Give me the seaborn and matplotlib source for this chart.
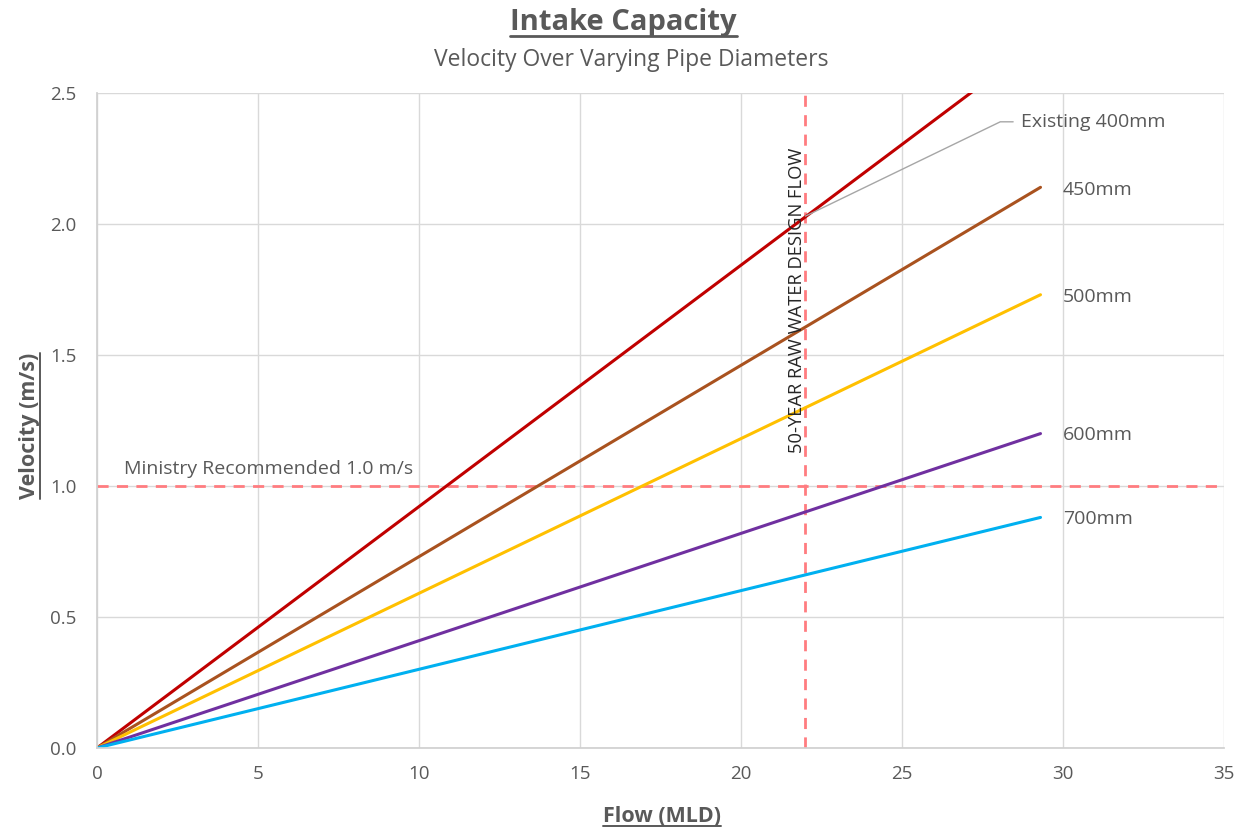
import numpy as np
import pandas as pd
import matplotlib
matplotlib.use("Agg")
import matplotlib.pyplot as plt
import seaborn as sns
from matplotlib.lines import Line2D

# Data: each pipe runs linearly from the origin to the last flow value
diameters = ["400mm", "450mm", "500mm", "600mm", "700mm"]
flows = [0.0, 29.3]
end_velocity = [2.70, 2.14, 1.73, 1.20, 0.88]
colors = ["#C00000", "#A9521F", "#FFC000", "#7030A0", "#00B0F0"]
label_text = ["Existing 400mm", "450mm", "500mm", "600mm", "700mm"]

design_flow = 22.0
ministry_velocity = 1.0

rows = []
for d, v in zip(diameters, end_velocity):
    rows.append({"Diameter": d, "Flow": flows[0], "Velocity": 0.0})
    rows.append({"Diameter": d, "Flow": flows[1], "Velocity": v})
df = pd.DataFrame(rows)

sns.set_theme(style="whitegrid")
plt.rcParams["font.family"] = ["Open Sans", "DejaVu Sans"]
grey = "#595959"

fig = plt.figure(figsize=(12.47, 8.31), dpi=100)
ax = fig.add_axes([0.0778, 0.0999, 0.9038, 0.7882])

sns.lineplot(data=df, x="Flow", y="Velocity", hue="Diameter", palette=colors,
             linewidth=2.2, legend=False, ax=ax)

# reference lines
ax.axhline(ministry_velocity, color="#FF7C80", linestyle=(0, (4, 3)), linewidth=2, zorder=1)
ax.axvline(design_flow, color="#FF7C80", linestyle=(0, (4, 3)), linewidth=2, zorder=1)

ax.set_xlim(0, 35)
ax.set_ylim(0, 2.5)
ax.set_xticks(np.arange(0, 36, 5))
ax.set_yticks(np.arange(0, 2.51, 0.5))
ax.set_yticklabels([f"{t:.1f}" for t in np.arange(0, 2.51, 0.5)])
ax.tick_params(axis="both", colors=grey, labelsize=13.5, length=0)
ax.tick_params(axis="y", pad=15)
ax.tick_params(axis="x", pad=12)
ax.grid(True, color="#D9D9D9", linewidth=1)
for s in ax.spines.values():
    s.set_visible(False)
ax.spines["left"].set_visible(True)
ax.spines["bottom"].set_visible(True)
ax.spines["left"].set_color("#D0D0D0")
ax.spines["bottom"].set_color("#D0D0D0")
ax.set_xlabel("")
ax.set_ylabel("")

# series labels
label_y = [2.39, 2.13, 1.72, 1.195, 0.874]
for i, (txt, y) in enumerate(zip(label_text, label_y)):
    x = 28.7 if i == 0 else 30.0
    ax.text(x, y, txt, color=grey, fontsize=14, va="center", ha="left")

# leader line for the existing pipe
ax.add_line(Line2D([22.0, 28.05, 28.45], [2.03, 2.39, 2.39], color="#A6A6A6", linewidth=1))

ax.text(0.84, 1.065, "Ministry Recommended 1.0 m/s", color=grey, fontsize=14, va="center")
ax.text(21.74, 1.71, "50-YEAR RAW WATER DESIGN FLOW", color="#262626", fontsize=13.2,
        rotation=90, va="center", ha="center")

# titles and axis labels (underlined)
title = fig.text(0.5, 0.973, "Intake Capacity", ha="center", va="center",
                 fontsize=21, fontweight="bold", color=grey)
fig.text(0.506, 0.928, "Velocity Over Varying Pipe Diameters", ha="center", va="center",
         fontsize=16.5, color=grey)
xlab = fig.text(0.531, 0.018, "Flow (MLD)", ha="center", va="center",
                fontsize=15.5, fontweight="bold", color=grey)
ylab = fig.text(0.024, 0.487, "Velocity (m/s)", ha="center", va="center",
                fontsize=15.5, fontweight="bold", color=grey, rotation=90)

fig.canvas.draw()
r = fig.canvas.get_renderer()
W, H = fig.bbox.width, fig.bbox.height
for t, lw in [(title, 2.0), (xlab, 1.4)]:
    bb = t.get_window_extent(r)
    yy = (bb.y0 + 1) / H
    fig.add_artist(Line2D([bb.x0 / W, bb.x1 / W], [yy, yy], color=grey, linewidth=lw))
bb = ylab.get_window_extent(r)
xx = (bb.x1 - 0) / W
fig.add_artist(Line2D([xx, xx], [bb.y0 / H, bb.y1 / H], color=grey, linewidth=1.4))

fig.savefig("out.png", dpi=100)
